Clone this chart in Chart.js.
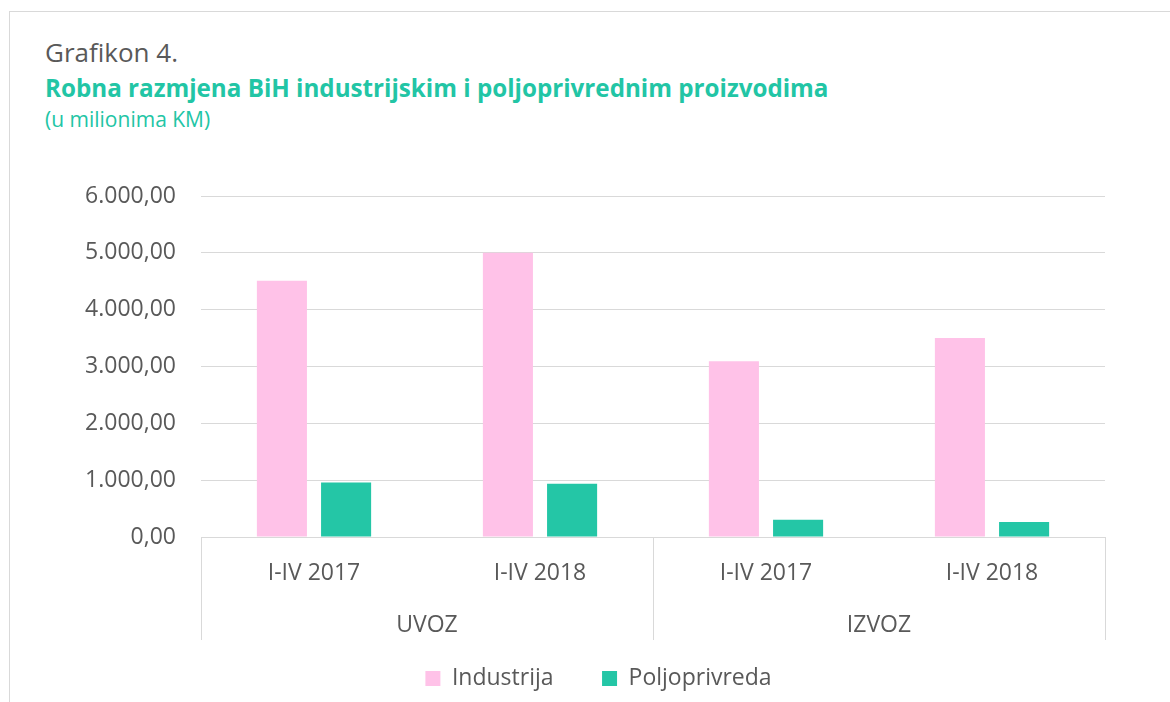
<!DOCTYPE html>
<html>
<head>
<meta charset="utf-8">
<script src="https://cdn.jsdelivr.net/npm/chart.js@4"></script>
<style>
  html, body { margin: 0; padding: 0; background: #fff; overflow: hidden; }
  body { width: 1170px; height: 702px; position: relative; font-family: "Open Sans", sans-serif; }
  .frame { position: absolute; left: 9px; top: 11px; width: 2000px; height: 2000px; border: 1px solid #d9d9d9; }
  .txt { position: absolute; left: 45px; line-height: 1; white-space: nowrap; }
  #t1 { top: 39px; font-size: 26px; color: #595959; }
  #t2 { top: 76px; font-size: 24.2px; font-weight: bold; color: #22c5a5; }
  #t3 { top: 109px; font-size: 21px; color: #22c5a5; }
  #wrap { position: absolute; left: 0; top: 0; width: 1170px; height: 702px; }
</style>
</head>
<body>
<div class="frame"></div>
<div class="txt" id="t1">Grafikon 4.</div>
<div class="txt" id="t2">Robna razmjena BiH industrijskim i poljoprivrednim proizvodima</div>
<div class="txt" id="t3">(u milionima KM)</div>
<div id="wrap"><canvas id="chart"></canvas></div>
<script>
// Data
const periods = ['I-IV 2017', 'I-IV 2018', 'I-IV 2017', 'I-IV 2018'];
const groupLabels = ['UVOZ', 'IZVOZ'];
const groupSizes = [2, 2];
const industrija = [4507, 5000, 3092, 3500];
const poljoprivreda = [960, 935, 305, 265];
const yTicks = [0, 1000, 2000, 3000, 4000, 5000, 6000];

const gray = '#595959';
const gridColor = '#d9d9d9';

function fmt(v) {
  // 6000 -> "6.000,00"
  const s = Math.round(v).toString().replace(/\B(?=(\d{3})+(?!\d))/g, '.');
  return s + ',00';
}

// Second level of category axis + separators
const groupAxis = {
  id: 'groupAxis',
  afterDraw(chart) {
    const { ctx, chartArea, scales: { x } } = chart;
    const half = (x.getPixelForValue(1) - x.getPixelForValue(0)) / 2;
    const top = chartArea.bottom;
    const bottom = top + 103;
    ctx.save();
    ctx.strokeStyle = gridColor;
    ctx.lineWidth = 1;
    let start = 0;
    const edges = [x.getPixelForValue(0) - half];
    groupLabels.forEach((label, i) => {
      const end = start + groupSizes[i] - 1;
      const right = x.getPixelForValue(end) + half;
      edges.push(right);
      const cx = (x.getPixelForValue(start) + x.getPixelForValue(end)) / 2;
      ctx.fillStyle = gray;
      ctx.font = '23px "Open Sans"';
      ctx.textAlign = 'center';
      ctx.textBaseline = 'middle';
      ctx.fillText(label, cx, top + 88);
      start = end + 1;
    });
    edges.forEach(px => {
      const p = Math.round(px) + 0.5;
      ctx.beginPath();
      ctx.moveTo(p, top);
      ctx.lineTo(p, bottom);
      ctx.stroke();
    });
    ctx.restore();
  }
};

Chart.defaults.font.family = '"Open Sans", sans-serif';
Chart.defaults.color = gray;

new Chart(document.getElementById('chart'), {
  type: 'bar',
  data: {
    labels: periods,
    datasets: [{
      label: 'Industrija',
      data: industrija,
      backgroundColor: '#ffc2e8',
      borderWidth: 0,
      categoryPercentage: 0.568,
      barPercentage: 0.78
    }, {
      label: 'Poljoprivreda',
      data: poljoprivreda,
      backgroundColor: '#24c6a6',
      borderWidth: 0,
      categoryPercentage: 0.568,
      barPercentage: 0.78
    }]
  },
  options: {
    responsive: true,
    maintainAspectRatio: false,
    animation: false,
    layout: { padding: { top: 196, left: 70, right: 43, bottom: 2 } },
    plugins: {
      tooltip: { enabled: false },
      legend: {
        position: 'bottom',
        labels: {
          boxWidth: 15,
          boxHeight: 15,
          padding: 48.5,
          color: gray,
          font: { size: 23 }
        }
      }
    },
    scales: {
      x: {
        grid: { display: false, drawTicks: false },
        border: { display: false },
        ticks: { color: gray, font: { size: 23 }, padding: 23, maxRotation: 0 },
        afterFit(scale) { scale.height = 81.5; }
      },
      y: {
        min: 0,
        max: 6000,
        afterBuildTicks(scale) { scale.ticks = yTicks.map(v => ({ value: v })); },
        grid: { color: gridColor, lineWidth: 1, drawTicks: false },
        border: { display: false },
        ticks: { color: gray, font: { size: 23 }, padding: 25, callback: v => fmt(v) },
        afterFit(scale) { scale.width = 131; }
      },
      // empty right axis, only keeps the plot's right edge clear of the legend centre
      yRight: {
        position: 'right',
        grid: { display: false, drawTicks: false },
        border: { display: false },
        ticks: { display: false },
        afterFit(scale) { scale.width = 22; }
      }
    }
  },
  plugins: [groupAxis]
});
</script>
</body>
</html>
